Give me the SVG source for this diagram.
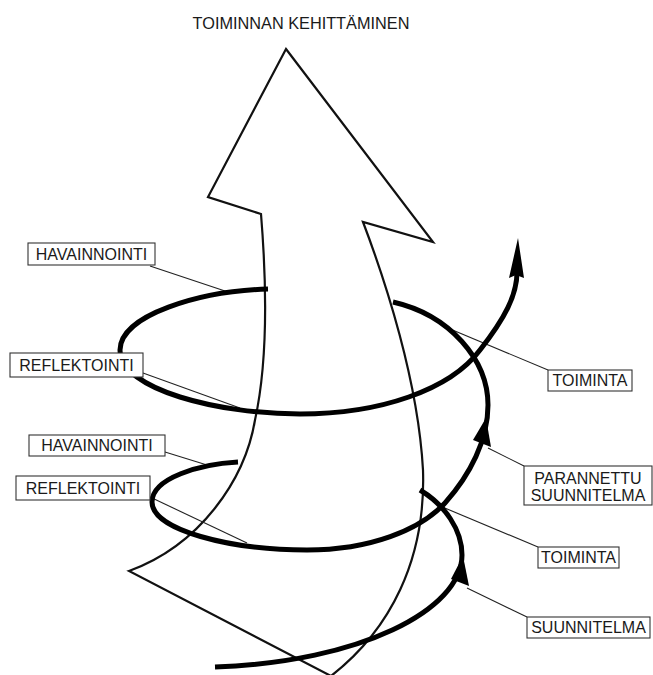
<svg xmlns="http://www.w3.org/2000/svg" width="653" height="675" viewBox="0 0 653 675">
<style>
.lbl{font-family:"Liberation Sans",Arial,sans-serif;font-size:16px;fill:#1a1a1a;text-anchor:middle}
.box{fill:#fff;stroke:#333;stroke-width:1.1}
.lead{stroke:#222;stroke-width:1.1;fill:none}
.spiral{fill:none;stroke:#000;stroke-width:5;stroke-linecap:butt;stroke-linejoin:round}
.head{fill:#000}
</style>
<rect width="653" height="675" fill="#fff"/>
<text id="title" x="301" y="28.5" class="lbl" style="font-size:16.3px">TOIMINNAN KEHITTÄMINEN</text>
<g id="big-arrow">
<path d="M286,49 L433,242 L363,222 C385,280 418,380 423,470 C426,560 390,630 331,676 L129,571 C200,545 245,480 255,420 C266,370 268,300 261,214 L208,197 Z" fill="#fff" stroke="#111" stroke-width="2.2" stroke-linejoin="miter"/>
</g>
<g id="connectors">
<line class="lead" x1="150" y1="266" x2="228" y2="292"/>
<line class="lead" x1="143" y1="373" x2="240" y2="408"/>
<line class="lead" x1="443" y1="326" x2="548" y2="370"/>
<line class="lead" x1="488" y1="448" x2="524" y2="466"/>
<line class="lead" x1="165" y1="452" x2="207" y2="465"/>
<line class="lead" x1="150" y1="497" x2="247" y2="543"/>
<line class="lead" x1="440" y1="506" x2="538" y2="547"/>
<line class="lead" x1="467" y1="588" x2="527" y2="617"/>
</g>
<g id="spiral">
<path class="spiral" d="M420,490 C445,505 462,530 462,555 C462,610 360,662 215,667"/>
<polygon class="head" points="463,556 451,579 469,586"/>
<path class="spiral" d="M238,462 C200,464 152,478 152,502 C152,530 230,550 307,550 C370,550 420,530 445,503 C470,475 488,440 488,405 C488,360 450,315 393,302"/>
<polygon class="head" points="486,418 473,440 491,447"/>
<path class="spiral" d="M268,289 C200,291 120,315 120,350 C120,390 220,414 300,414 C380,414 450,390 480,350 C505,318 517,295 517,272"/>
<polygon class="head" points="518,238 524,278 516,275 509,278"/>
</g>
<g id="havainnointi-1"><rect class="box" x="28" y="243" width="127" height="22"/><text class="lbl" x="91.5" y="260">HAVAINNOINTI</text></g>
<g id="reflektointi-1"><rect class="box" x="10" y="353" width="133" height="24"/><text class="lbl" x="76.5" y="371">REFLEKTOINTI</text></g>
<g id="toiminta-1"><rect class="box" x="548" y="370" width="84" height="21"/><text class="lbl" x="590" y="386">TOIMINTA</text></g>
<g id="parannettu-suunnitelma"><rect class="box" x="524" y="466" width="128" height="39"/><text class="lbl" x="588" y="484">PARANNETTU</text><text class="lbl" x="588" y="501">SUUNNITELMA</text></g>
<g id="havainnointi-2"><rect class="box" x="29" y="435" width="136" height="21"/><text class="lbl" x="97" y="451">HAVAINNOINTI</text></g>
<g id="reflektointi-2"><rect class="box" x="16" y="476" width="134" height="24"/><text class="lbl" x="83" y="494">REFLEKTOINTI</text></g>
<g id="toiminta-2"><rect class="box" x="538" y="547" width="81" height="21"/><text class="lbl" x="578.5" y="563">TOIMINTA</text></g>
<g id="suunnitelma"><rect class="box" x="527" y="617" width="123" height="21"/><text class="lbl" x="588.5" y="633">SUUNNITELMA</text></g>
</svg>
